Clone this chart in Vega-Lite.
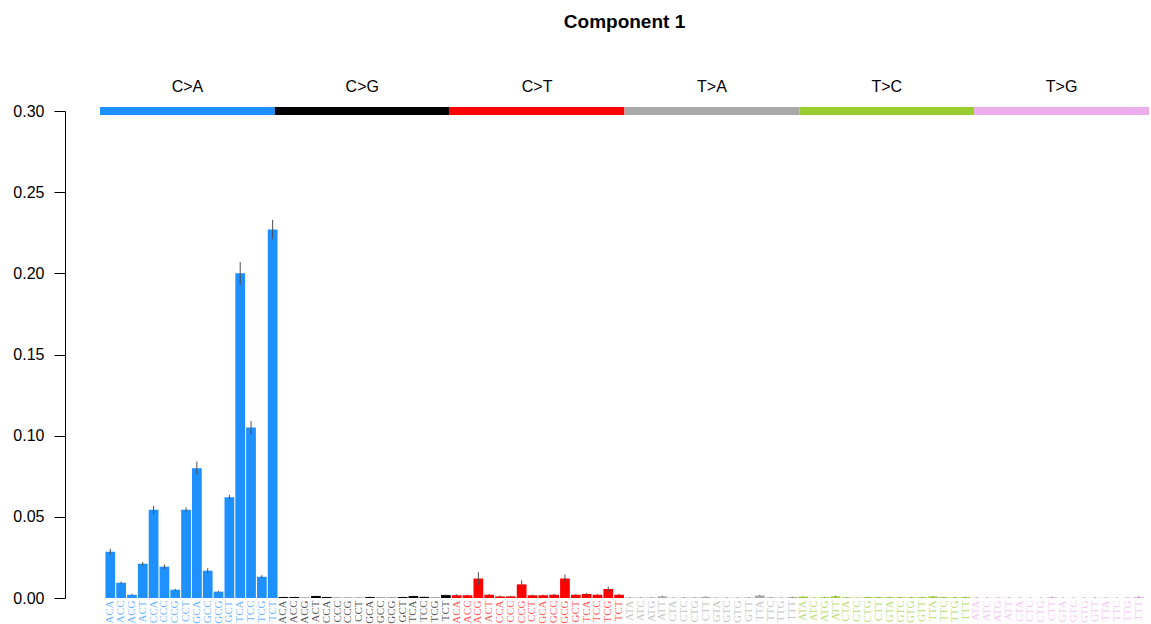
{
  "$schema": "https://vega.github.io/schema/vega-lite/v6.json",
  "autosize": {"type": "none"},
  "padding": {"left": 100, "top": 111, "right": 2, "bottom": 26},
  "width": 1049,
  "height": 487,
  "background": "white",
  "title": {"text": "Component 1", "font": "Liberation Sans", "fontSize": 19, "fontWeight": "bold", "anchor": "middle", "offset": 47, "color": "black"},
  "config": {"view": {"stroke": null}, "axis": {"grid": false}},
  "datasets": {
    "groups": [
      {"type": "C>A"}, {"type": "C>G"}, {"type": "C>T"}, {"type": "T>A"}, {"type": "T>C"}, {"type": "T>G"}
    ],
    "sig": [
      {"type":"C>A","context":"ACA","id":"C>A ACA","value":0.0285,"lo":0.0267,"hi":0.0303},
      {"type":"C>A","context":"ACC","id":"C>A ACC","value":0.0094,"lo":0.0087,"hi":0.0101},
      {"type":"C>A","context":"ACG","id":"C>A ACG","value":0.0020,"lo":0.0016,"hi":0.0024},
      {"type":"C>A","context":"ACT","id":"C>A ACT","value":0.0211,"lo":0.0200,"hi":0.0222},
      {"type":"C>A","context":"CCA","id":"C>A CCA","value":0.0543,"lo":0.0518,"hi":0.0568},
      {"type":"C>A","context":"CCC","id":"C>A CCC","value":0.0193,"lo":0.0179,"hi":0.0207},
      {"type":"C>A","context":"CCG","id":"C>A CCG","value":0.0051,"lo":0.0045,"hi":0.0057},
      {"type":"C>A","context":"CCT","id":"C>A CCT","value":0.0543,"lo":0.0528,"hi":0.0558},
      {"type":"C>A","context":"GCA","id":"C>A GCA","value":0.0800,"lo":0.0760,"hi":0.0840},
      {"type":"C>A","context":"GCC","id":"C>A GCC","value":0.0168,"lo":0.0153,"hi":0.0183},
      {"type":"C>A","context":"GCG","id":"C>A GCG","value":0.0039,"lo":0.0034,"hi":0.0044},
      {"type":"C>A","context":"GCT","id":"C>A GCT","value":0.0621,"lo":0.0606,"hi":0.0636},
      {"type":"C>A","context":"TCA","id":"C>A TCA","value":0.2000,"lo":0.1930,"hi":0.2070},
      {"type":"C>A","context":"TCC","id":"C>A TCC","value":0.1050,"lo":0.1010,"hi":0.1090},
      {"type":"C>A","context":"TCG","id":"C>A TCG","value":0.0131,"lo":0.0121,"hi":0.0141},
      {"type":"C>A","context":"TCT","id":"C>A TCT","value":0.2270,"lo":0.2210,"hi":0.2330},
      {"type":"C>G","context":"ACA","id":"C>G ACA","value":0.0006,"lo":0.0004,"hi":0.0008},
      {"type":"C>G","context":"ACC","id":"C>G ACC","value":0.0006,"lo":0.0004,"hi":0.0008},
      {"type":"C>G","context":"ACG","id":"C>G ACG","value":0.0002,"lo":0.0001,"hi":0.0003},
      {"type":"C>G","context":"ACT","id":"C>G ACT","value":0.0012,"lo":0.0009,"hi":0.0015},
      {"type":"C>G","context":"CCA","id":"C>G CCA","value":0.0006,"lo":0.0004,"hi":0.0008},
      {"type":"C>G","context":"CCC","id":"C>G CCC","value":0.0002,"lo":0.0001,"hi":0.0003},
      {"type":"C>G","context":"CCG","id":"C>G CCG","value":0.0002,"lo":0.0001,"hi":0.0003},
      {"type":"C>G","context":"CCT","id":"C>G CCT","value":0.0002,"lo":0.0001,"hi":0.0003},
      {"type":"C>G","context":"GCA","id":"C>G GCA","value":0.0006,"lo":0.0004,"hi":0.0008},
      {"type":"C>G","context":"GCC","id":"C>G GCC","value":0.0002,"lo":0.0001,"hi":0.0003},
      {"type":"C>G","context":"GCG","id":"C>G GCG","value":0.0002,"lo":0.0001,"hi":0.0003},
      {"type":"C>G","context":"GCT","id":"C>G GCT","value":0.0006,"lo":0.0004,"hi":0.0008},
      {"type":"C>G","context":"TCA","id":"C>G TCA","value":0.0012,"lo":0.0009,"hi":0.0015},
      {"type":"C>G","context":"TCC","id":"C>G TCC","value":0.0007,"lo":0.0005,"hi":0.0009},
      {"type":"C>G","context":"TCG","id":"C>G TCG","value":0.0002,"lo":0.0001,"hi":0.0003},
      {"type":"C>G","context":"TCT","id":"C>G TCT","value":0.0018,"lo":0.0014,"hi":0.0022},
      {"type":"C>T","context":"ACA","id":"C>T ACA","value":0.0017,"lo":0.0011,"hi":0.0023},
      {"type":"C>T","context":"ACC","id":"C>T ACC","value":0.0017,"lo":0.0013,"hi":0.0021},
      {"type":"C>T","context":"ACG","id":"C>T ACG","value":0.0120,"lo":0.0081,"hi":0.0159},
      {"type":"C>T","context":"ACT","id":"C>T ACT","value":0.0020,"lo":0.0015,"hi":0.0025},
      {"type":"C>T","context":"CCA","id":"C>T CCA","value":0.0010,"lo":0.0005,"hi":0.0015},
      {"type":"C>T","context":"CCC","id":"C>T CCC","value":0.0010,"lo":0.0006,"hi":0.0014},
      {"type":"C>T","context":"CCG","id":"C>T CCG","value":0.0084,"lo":0.0059,"hi":0.0109},
      {"type":"C>T","context":"CCT","id":"C>T CCT","value":0.0017,"lo":0.0013,"hi":0.0021},
      {"type":"C>T","context":"GCA","id":"C>T GCA","value":0.0017,"lo":0.0013,"hi":0.0021},
      {"type":"C>T","context":"GCC","id":"C>T GCC","value":0.0020,"lo":0.0014,"hi":0.0026},
      {"type":"C>T","context":"GCG","id":"C>T GCG","value":0.0120,"lo":0.0095,"hi":0.0145},
      {"type":"C>T","context":"GCT","id":"C>T GCT","value":0.0020,"lo":0.0015,"hi":0.0025},
      {"type":"C>T","context":"TCA","id":"C>T TCA","value":0.0025,"lo":0.0019,"hi":0.0031},
      {"type":"C>T","context":"TCC","id":"C>T TCC","value":0.0020,"lo":0.0014,"hi":0.0026},
      {"type":"C>T","context":"TCG","id":"C>T TCG","value":0.0055,"lo":0.0040,"hi":0.0070},
      {"type":"C>T","context":"TCT","id":"C>T TCT","value":0.0020,"lo":0.0014,"hi":0.0026},
      {"type":"T>A","context":"ATA","id":"T>A ATA","value":0.0003,"lo":0.0001,"hi":0.0005},
      {"type":"T>A","context":"ATC","id":"T>A ATC","value":0.0003,"lo":0.0001,"hi":0.0005},
      {"type":"T>A","context":"ATG","id":"T>A ATG","value":0.0003,"lo":0.0001,"hi":0.0005},
      {"type":"T>A","context":"ATT","id":"T>A ATT","value":0.0010,"lo":0.0007,"hi":0.0013},
      {"type":"T>A","context":"CTA","id":"T>A CTA","value":0.0002,"lo":0.0001,"hi":0.0004},
      {"type":"T>A","context":"CTC","id":"T>A CTC","value":0.0003,"lo":0.0001,"hi":0.0005},
      {"type":"T>A","context":"CTG","id":"T>A CTG","value":0.0003,"lo":0.0001,"hi":0.0005},
      {"type":"T>A","context":"CTT","id":"T>A CTT","value":0.0007,"lo":0.0005,"hi":0.0009},
      {"type":"T>A","context":"GTA","id":"T>A GTA","value":0.0002,"lo":0.0001,"hi":0.0004},
      {"type":"T>A","context":"GTC","id":"T>A GTC","value":0.0002,"lo":0.0001,"hi":0.0004},
      {"type":"T>A","context":"GTG","id":"T>A GTG","value":0.0002,"lo":0.0001,"hi":0.0004},
      {"type":"T>A","context":"GTT","id":"T>A GTT","value":0.0003,"lo":0.0001,"hi":0.0005},
      {"type":"T>A","context":"TTA","id":"T>A TTA","value":0.0015,"lo":0.0012,"hi":0.0018},
      {"type":"T>A","context":"TTC","id":"T>A TTC","value":0.0004,"lo":0.0002,"hi":0.0006},
      {"type":"T>A","context":"TTG","id":"T>A TTG","value":0.0002,"lo":0.0001,"hi":0.0004},
      {"type":"T>A","context":"TTT","id":"T>A TTT","value":0.0006,"lo":0.0004,"hi":0.0008},
      {"type":"T>C","context":"ATA","id":"T>C ATA","value":0.0008,"lo":0.0006,"hi":0.0010},
      {"type":"T>C","context":"ATC","id":"T>C ATC","value":0.0002,"lo":0.0001,"hi":0.0004},
      {"type":"T>C","context":"ATG","id":"T>C ATG","value":0.0005,"lo":0.0003,"hi":0.0007},
      {"type":"T>C","context":"ATT","id":"T>C ATT","value":0.0010,"lo":0.0007,"hi":0.0013},
      {"type":"T>C","context":"CTA","id":"T>C CTA","value":0.0004,"lo":0.0002,"hi":0.0006},
      {"type":"T>C","context":"CTC","id":"T>C CTC","value":0.0002,"lo":0.0001,"hi":0.0004},
      {"type":"T>C","context":"CTG","id":"T>C CTG","value":0.0005,"lo":0.0003,"hi":0.0007},
      {"type":"T>C","context":"CTT","id":"T>C CTT","value":0.0005,"lo":0.0003,"hi":0.0007},
      {"type":"T>C","context":"GTA","id":"T>C GTA","value":0.0005,"lo":0.0003,"hi":0.0007},
      {"type":"T>C","context":"GTC","id":"T>C GTC","value":0.0004,"lo":0.0002,"hi":0.0006},
      {"type":"T>C","context":"GTG","id":"T>C GTG","value":0.0004,"lo":0.0002,"hi":0.0006},
      {"type":"T>C","context":"GTT","id":"T>C GTT","value":0.0005,"lo":0.0003,"hi":0.0007},
      {"type":"T>C","context":"TTA","id":"T>C TTA","value":0.0009,"lo":0.0007,"hi":0.0011},
      {"type":"T>C","context":"TTC","id":"T>C TTC","value":0.0005,"lo":0.0003,"hi":0.0007},
      {"type":"T>C","context":"TTG","id":"T>C TTG","value":0.0004,"lo":0.0002,"hi":0.0006},
      {"type":"T>C","context":"TTT","id":"T>C TTT","value":0.0005,"lo":0.0003,"hi":0.0007},
      {"type":"T>G","context":"ATA","id":"T>G ATA","value":0.0002,"lo":0.0001,"hi":0.0004},
      {"type":"T>G","context":"ATC","id":"T>G ATC","value":0.0002,"lo":0.0001,"hi":0.0004},
      {"type":"T>G","context":"ATG","id":"T>G ATG","value":0.0002,"lo":0.0001,"hi":0.0004},
      {"type":"T>G","context":"ATT","id":"T>G ATT","value":0.0002,"lo":0.0001,"hi":0.0004},
      {"type":"T>G","context":"CTA","id":"T>G CTA","value":0.0001,"lo":0.0000,"hi":0.0003},
      {"type":"T>G","context":"CTC","id":"T>G CTC","value":0.0001,"lo":0.0000,"hi":0.0003},
      {"type":"T>G","context":"CTG","id":"T>G CTG","value":0.0001,"lo":0.0000,"hi":0.0003},
      {"type":"T>G","context":"CTT","id":"T>G CTT","value":0.0005,"lo":0.0003,"hi":0.0008},
      {"type":"T>G","context":"GTA","id":"T>G GTA","value":0.0001,"lo":0.0000,"hi":0.0003},
      {"type":"T>G","context":"GTC","id":"T>G GTC","value":0.0001,"lo":0.0000,"hi":0.0003},
      {"type":"T>G","context":"GTG","id":"T>G GTG","value":0.0001,"lo":0.0000,"hi":0.0003},
      {"type":"T>G","context":"GTT","id":"T>G GTT","value":0.0002,"lo":0.0001,"hi":0.0004},
      {"type":"T>G","context":"TTA","id":"T>G TTA","value":0.0002,"lo":0.0001,"hi":0.0004},
      {"type":"T>G","context":"TTC","id":"T>G TTC","value":0.0001,"lo":0.0000,"hi":0.0003},
      {"type":"T>G","context":"TTG","id":"T>G TTG","value":0.0002,"lo":0.0001,"hi":0.0004},
      {"type":"T>G","context":"TTT","id":"T>G TTT","value":0.0006,"lo":0.0003,"hi":0.0009}
    ]
  },
  "layer": [
    {
      "data": {"name": "sig"},
      "layer": [
        {
          "mark": {"type": "bar"},
          "encoding": {
            "x": {
              "field": "id", "type": "nominal", "sort": null,
              "scale": {"paddingInner": 0.1, "paddingOuter": 0.5},
              "axis": {
                "title": null, "domain": false, "ticks": false,
                "labelAngle": 270, "labelFont": "Liberation Serif", "labelFontSize": 11,
                "labelPadding": 2, "labelOverlap": false, "labelBound": false,
                "labelExpr": "slice(datum.value, 4)",
                "labelOpacity": 0.7,
                "labelColor": {
                  "condition": [
                    {"test": "indexof(datum.value, 'C>A') == 0", "value": "#1E90FF"},
                    {"test": "indexof(datum.value, 'C>G') == 0", "value": "#000000"},
                    {"test": "indexof(datum.value, 'C>T') == 0", "value": "#FF0000"},
                    {"test": "indexof(datum.value, 'T>A') == 0", "value": "#A9A9A9"},
                    {"test": "indexof(datum.value, 'T>C') == 0", "value": "#9ACD32"}
                  ],
                  "value": "#EEAEEE"
                }
              }
            },
            "y": {
              "field": "value", "type": "quantitative",
              "scale": {"domain": [0, 0.3], "nice": false, "zero": true},
              "axis": {
                "title": null, "values": [0, 0.05, 0.1, 0.15, 0.2, 0.25, 0.3], "format": ".2f",
                "offset": 35, "tickSize": 11, "labelPadding": 10,
                "labelFont": "Liberation Sans", "labelFontSize": 16, "labelColor": "black",
                "domainColor": "black", "tickColor": "black", "grid": false
              }
            },
            "color": {
              "field": "type", "type": "nominal",
              "scale": {"domain": ["C>A", "C>G", "C>T", "T>A", "T>C", "T>G"], "range": ["#1E90FF", "#000000", "#FF0000", "#A9A9A9", "#9ACD32", "#EEAEEE"]},
              "legend": null
            }
          }
        },
        {
          "mark": {"type": "rule", "color": "#4d4d4d", "strokeWidth": 1},
          "encoding": {
            "x": {"field": "id", "type": "nominal", "sort": null},
            "y": {"field": "lo", "type": "quantitative"},
            "y2": {"field": "hi"}
          }
        }
      ]
    },
    {
      "data": {"name": "groups"},
      "layer": [
        {
          "mark": {"type": "tick", "orient": "horizontal", "size": 174.83, "thickness": 8, "opacity": 1},
          "encoding": {
            "x": {"field": "type", "type": "nominal", "sort": null, "scale": {"paddingInner": 0, "paddingOuter": 0}, "axis": null},
            "y": {"datum": 0.3, "type": "quantitative"},
            "color": {"field": "type", "type": "nominal", "legend": null}
          }
        },
        {
          "mark": {"type": "text", "dy": -24, "font": "Liberation Sans", "fontSize": 16, "color": "black", "baseline": "middle", "align": "center"},
          "encoding": {
            "x": {"field": "type", "type": "nominal", "sort": null},
            "y": {"datum": 0.3, "type": "quantitative"},
            "text": {"field": "type"}
          }
        }
      ]
    }
  ],
  "resolve": {"scale": {"x": "independent"}}
}
